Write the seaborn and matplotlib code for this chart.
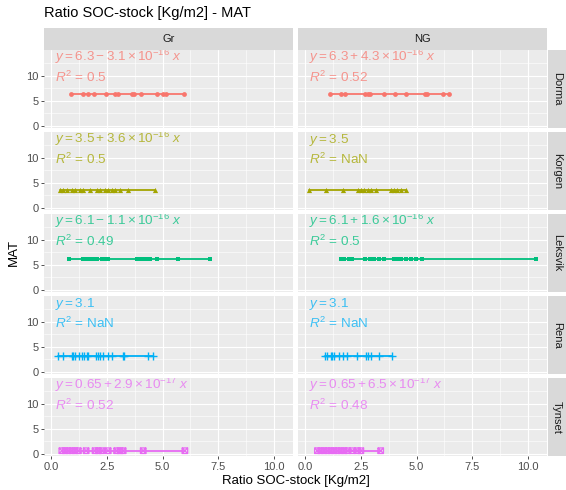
import numpy as np
import pandas as pd
import matplotlib
matplotlib.use("Agg")
import matplotlib.pyplot as plt
import seaborn as sns
from matplotlib.path import Path

# ---------------- data ----------------
sites = ["Dorma", "Korgen", "Leksvik", "Rena", "Tynset"]
treatments = ["Gr", "NG"]
mat_values = [6.3, 3.5, 6.1, 3.1, 0.65]

dorma_gr = [0.89, 1.42, 1.67, 1.94, 2.45, 2.86, 3.01, 3.61, 3.73, 4.03, 4.73, 5.00, 5.15, 5.96]
dorma_ng = [1.11, 1.60, 1.78, 2.69, 2.83, 2.91, 3.54, 4.04, 4.52, 5.38, 5.46, 6.20, 6.47]
korgen_gr = [0.40, 0.55, 0.70, 0.93, 1.07, 1.30, 1.45, 1.74, 2.04, 2.19, 2.42, 2.56, 2.71, 2.86, 3.09, 3.46, 4.65]
korgen_ng = [0.18, 0.93, 1.72, 2.35, 2.50, 2.65, 2.80, 2.97, 3.17, 3.84, 3.99, 4.14, 4.29, 4.52]
leksvik_gr = [0.82, 1.45, 1.60, 1.74, 1.89, 2.04, 2.27, 2.42, 2.56, 3.83, 3.98, 4.13, 4.28, 4.43, 4.73, 5.70, 7.11]
leksvik_ng = [1.60, 1.75, 1.97, 2.12, 2.68, 2.91, 3.09, 3.32, 3.54, 3.99, 4.14, 4.29, 4.52, 4.74, 4.96, 5.26, 10.35]
rena_gr = [0.33, 0.52, 0.93, 1.00, 1.07, 1.27, 1.37, 1.48, 1.60, 1.67, 2.01, 2.12, 2.19, 2.34, 2.56, 2.72, 3.21, 3.27, 4.35, 4.58]
rena_ng = [0.88, 1.00, 1.15, 1.22, 1.30, 1.52, 1.72, 1.90, 2.32, 2.72, 2.83, 2.95, 3.32, 3.91]
tynset_gr = [0.48, 0.63, 0.77, 0.93, 1.07, 1.22, 1.57, 1.97, 2.12, 2.27, 2.56, 2.94, 3.09, 3.23, 4.13, 6.00]
tynset_ng = [0.55, 0.70, 0.85, 1.00, 1.15, 1.30, 1.45, 1.60, 1.75, 1.90, 2.12, 2.35, 2.50, 3.39]

ratios = {
    ("Dorma", "Gr"): dorma_gr, ("Dorma", "NG"): dorma_ng,
    ("Korgen", "Gr"): korgen_gr, ("Korgen", "NG"): korgen_ng,
    ("Leksvik", "Gr"): leksvik_gr, ("Leksvik", "NG"): leksvik_ng,
    ("Rena", "Gr"): rena_gr, ("Rena", "NG"): rena_ng,
    ("Tynset", "Gr"): tynset_gr, ("Tynset", "NG"): tynset_ng,
}

equations = {
    ("Dorma", "Gr"): r"$y = 6.3 - 3.1\times10^{-16}\ x$",
    ("Dorma", "NG"): r"$y = 6.3 + 4.3\times10^{-16}\ x$",
    ("Korgen", "Gr"): r"$y = 3.5 + 3.6\times10^{-16}\ x$",
    ("Korgen", "NG"): r"$y = 3.5$",
    ("Leksvik", "Gr"): r"$y = 6.1 - 1.1\times10^{-16}\ x$",
    ("Leksvik", "NG"): r"$y = 6.1 + 1.6\times10^{-16}\ x$",
    ("Rena", "Gr"): r"$y = 3.1$",
    ("Rena", "NG"): r"$y = 3.1$",
    ("Tynset", "Gr"): r"$y = 0.65 + 2.9\times10^{-17}\ x$",
    ("Tynset", "NG"): r"$y = 0.65 + 6.5\times10^{-17}\ x$",
}
r2_labels = {
    ("Dorma", "Gr"): "0.5", ("Dorma", "NG"): "0.52",
    ("Korgen", "Gr"): "0.5", ("Korgen", "NG"): "NaN",
    ("Leksvik", "Gr"): "0.49", ("Leksvik", "NG"): "0.5",
    ("Rena", "Gr"): "NaN", ("Rena", "NG"): "NaN",
    ("Tynset", "Gr"): "0.52", ("Tynset", "NG"): "0.48",
}

x_ticks = [0.0, 2.5, 5.0, 7.5, 10.0]
x_tick_labels = ["0.0", "2.5", "5.0", "7.5", "10.0"]
y_ticks = [0, 5, 10]
y_tick_labels = ["0", "5", "10"]

rows = []
for s, m in zip(sites, mat_values):
    for t in treatments:
        for r in ratios[(s, t)]:
            rows.append({"site": s, "treatment": t, "ratio": r, "MAT": m})
df = pd.DataFrame(rows)

# ---------------- style ----------------
sns.set_theme(style="darkgrid")
plt.rcParams["font.family"] = ["Liberation Sans", "DejaVu Sans"]
plt.rcParams["mathtext.fontset"] = "custom"
plt.rcParams["mathtext.rm"] = "Liberation Sans"
plt.rcParams["mathtext.it"] = "Liberation Sans:italic"
plt.rcParams["mathtext.bf"] = "Liberation Sans:bold"

colors = ["#F8766D", "#A3A500", "#00BF7D", "#00B0F6", "#E76BF3"]
boxx = Path([(-1, -1), (1, -1), (1, 1), (-1, 1), (-1, -1), (1, 1), (-1, 1), (1, -1)],
            [Path.MOVETO, Path.LINETO, Path.LINETO, Path.LINETO, Path.CLOSEPOLY,
             Path.LINETO, Path.MOVETO, Path.LINETO])
markers = ["o", "^", "s", "+", boxx]
msizes = [12, 14, 11, 30, 16]

W, H = 566, 490
fig = plt.figure(figsize=(W / 100, H / 100), dpi=100)
fig.patch.set_facecolor("white")

def fr(x0, y0, x1, y1):
    return [x0 / W, (H - y1) / H, (x1 - x0) / W, (y1 - y0) / H]

col_x = [(44, 293), (298, 547)]
row_top0, row_h, row_pitch = 50, 78, 82
xlim = (-0.32, 10.85)
ylim = (-0.4, 15.1)

for i, s in enumerate(sites):
    for j, t in enumerate(treatments):
        x0, x1 = col_x[j]
        y0 = row_top0 + i * row_pitch
        ax = fig.add_axes(fr(x0, y0, x1, y0 + row_h))
        ax.set_facecolor("#EBEBEB")
        sub = df[(df.site == s) & (df.treatment == t)]
        skw = {"s": msizes[i], "alpha": 1, "zorder": 3}
        if i == 3:
            skw["linewidths"] = 1.0
        elif i == 4:
            skw["facecolors"] = "none"
            skw["linewidths"] = 0.9
        else:
            skw["linewidths"] = 0
        sns.regplot(data=sub, x="ratio", y="MAT", ax=ax, ci=None, truncate=True,
                    color=colors[i], marker=markers[i], scatter_kws=skw,
                    line_kws={"lw": 1.3, "zorder": 2})
        ax.set_xlim(*xlim)
        ax.set_ylim(*ylim)
        ax.set_xticks(x_ticks)
        ax.set_yticks(y_ticks)
        ax.set_xticks([1.25, 3.75, 6.25, 8.75], minor=True)
        ax.set_yticks([2.5, 7.5, 12.5], minor=True)
        ax.grid(True, which="major", color="white", lw=0.8)
        ax.grid(True, which="minor", color="white", lw=0.4)
        ax.set_axisbelow(True)
        for sp in ax.spines.values():
            sp.set_visible(False)
        ax.set_xlabel("")
        ax.set_ylabel("")
        ax.tick_params(which="minor", length=0)
        if j == 0:
            ax.set_yticklabels(y_tick_labels)
            ax.tick_params(axis="y", which="major", length=2.5, width=0.6, color="#333333",
                           labelsize=8, labelcolor="#4D4D4D", pad=1.5, left=True)
        else:
            ax.tick_params(axis="y", which="major", length=0, labelleft=False)
        if i == len(sites) - 1:
            ax.set_xticklabels(x_tick_labels)
            ax.tick_params(axis="x", which="major", length=2.5, width=0.6, color="#333333",
                           labelsize=8, labelcolor="#4D4D4D", pad=1.5, bottom=True)
        else:
            ax.tick_params(axis="x", which="major", length=0, labelbottom=False)
        ax.text(0.045, 0.855, equations[(s, t)], transform=ax.transAxes, color=colors[i],
                fontsize=9.7, ha="left", va="baseline", clip_on=True, alpha=0.75)
        ax.text(0.045, 0.586, r"$R^2$" + " = " + r2_labels[(s, t)], transform=ax.transAxes,
                color=colors[i], fontsize=9.7, ha="left", va="baseline", clip_on=True, alpha=0.75)

# top strips
for j, t in enumerate(treatments):
    x0, x1 = col_x[j]
    sax = fig.add_axes(fr(x0, 28, x1, 50))
    sax.set_facecolor("#D9D9D9")
    sax.set_xticks([]); sax.set_yticks([])
    sax.grid(False)
    for sp in sax.spines.values():
        sp.set_visible(False)
    sax.text(0.5, 0.5, t, ha="center", va="center", fontsize=8, color="#1A1A1A",
             transform=sax.transAxes)

# right strips
for i, s in enumerate(sites):
    y0 = row_top0 + i * row_pitch
    sax = fig.add_axes(fr(548, y0, 566, y0 + row_h))
    sax.set_facecolor("#D9D9D9")
    sax.set_xticks([]); sax.set_yticks([])
    sax.grid(False)
    for sp in sax.spines.values():
        sp.set_visible(False)
    sax.text(0.5, 0.5, s, ha="center", va="center", fontsize=8, color="#1A1A1A",
             rotation=-90, transform=sax.transAxes)

fig.text(44 / W, 1 - 13 / H, "Ratio SOC-stock [Kg/m2] - MAT", ha="left", va="center",
         fontsize=10.5, color="black")
fig.text(296 / W, 1 - 481 / H, "Ratio SOC-stock [Kg/m2]", ha="center", va="center",
         fontsize=9.5, color="black")
fig.text(14 / W, 1 - 253 / H, "MAT", ha="center", va="center", rotation=90,
         fontsize=9.5, color="black")

fig.savefig("out.png", dpi=100)
